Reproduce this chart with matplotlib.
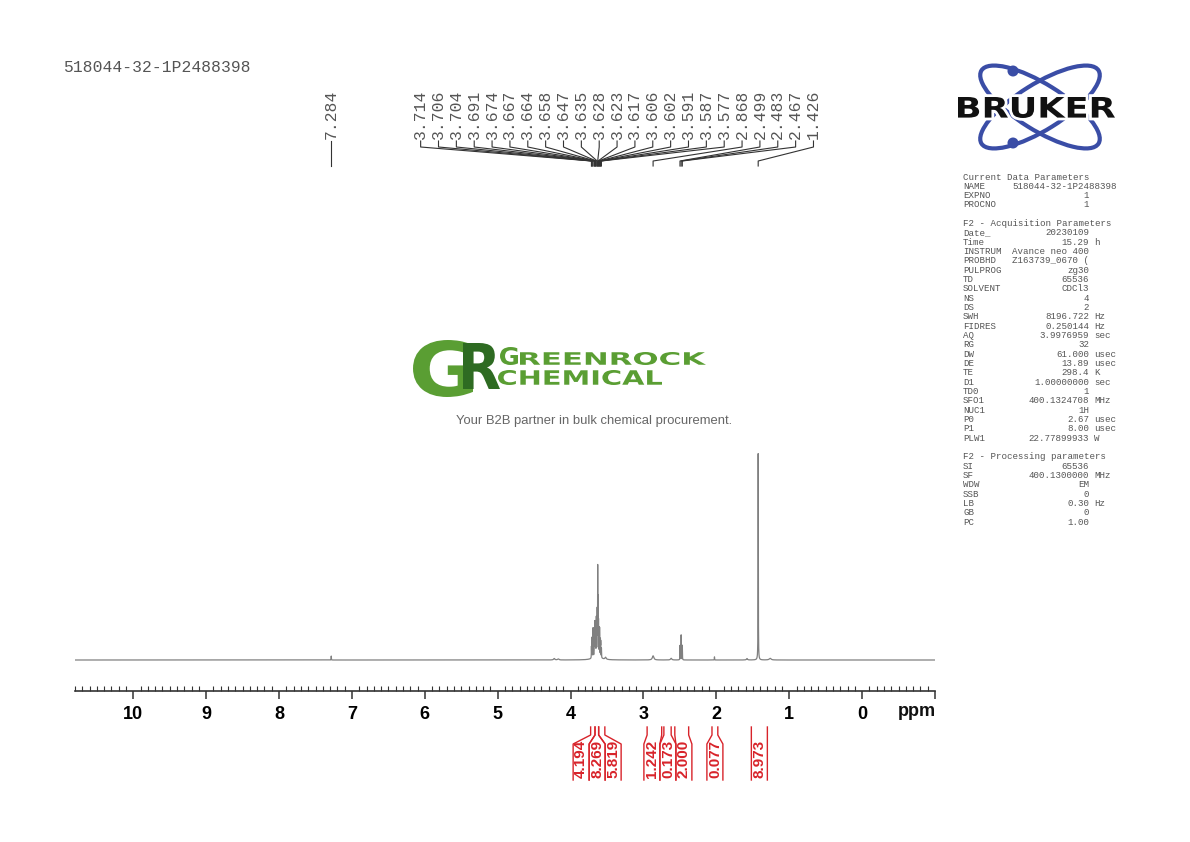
import numpy as np
import matplotlib
matplotlib.use("Agg")
import matplotlib.pyplot as plt
from matplotlib.lines import Line2D
from matplotlib.patches import Ellipse, Circle, PathPatch
from matplotlib.textpath import TextPath
from matplotlib.font_manager import FontProperties
from matplotlib.transforms import Affine2D, blended_transform_factory
from matplotlib.ticker import MultipleLocator

# ---- data ----
sample_name = "518044-32-1P2488398"

# picked peaks (labels at the top)
label_ppm = [7.284, 3.714, 3.706, 3.704, 3.691, 3.674, 3.667, 3.664, 3.658, 3.647,
             3.635, 3.628, 3.623, 3.617, 3.606, 3.602, 3.591, 3.587, 3.577,
             2.868, 2.499, 2.483, 2.467, 1.426]

# lines that build the trace (ppm, relative height, half width in ppm)
line_ppm = [7.284, 4.225, 4.170, 3.714, 3.706, 3.704, 3.691, 3.674, 3.667, 3.664,
            3.658, 3.647, 3.635, 3.628, 3.623, 3.617, 3.606, 3.602, 3.591, 3.587,
            3.577, 3.640, 3.520, 2.868, 2.620, 2.499, 2.483, 2.467, 2.026, 1.580,
            1.426, 1.262]
line_height = [1.9, 0.7, 0.5, 5.5, 7.0, 7.0, 14.0, 10.0, 13.0, 13.0,
               12.0, 17.0, 20.0, 40.0, 24.0, 15.0, 12.0, 12.0, 8.0, 7.0,
               4.5, 3.0, 1.0, 2.0, 0.8, 7.0, 12.0, 7.0, 1.5, 0.7,
               100.0, 0.8]
line_hwhm = [0.0015, 0.010, 0.010, 0.0015, 0.0015, 0.0015, 0.0015, 0.0015, 0.0015, 0.0015,
             0.0015, 0.0015, 0.0015, 0.0015, 0.0015, 0.0015, 0.0015, 0.0015, 0.0015, 0.0015,
             0.0015, 0.040, 0.010, 0.012, 0.010, 0.0015, 0.0015, 0.0015, 0.0015, 0.008,
             0.0018, 0.015]

# integrals
integral_values = ["4.194", "8.269", "5.819", "1.242", "0.173", "2.000", "0.077", "8.973"]
integral_start = [3.725, 3.665, 3.615, 2.950, 2.720, 2.570, 2.060, 1.520]
integral_end = [3.665, 3.615, 3.530, 2.750, 2.620, 2.380, 1.980, 1.300]

tick_values = list(range(-1, 11))
tick_labels = ["" if t < 0 else str(t) for t in tick_values]

# acquisition / processing parameters (key, value, unit); None = blank line
params = [
    ("Current Data Parameters", "", ""),
    ("NAME", sample_name, ""),
    ("EXPNO", "1", ""),
    ("PROCNO", "1", ""),
    None,
    ("F2 - Acquisition Parameters", "", ""),
    ("Date_", "20230109", ""),
    ("Time", "15.29", "h"),
    ("INSTRUM", "Avance neo 400", ""),
    ("PROBHD", "Z163739_0670 (", ""),
    ("PULPROG", "zg30", ""),
    ("TD", "65536", ""),
    ("SOLVENT", "CDCl3", ""),
    ("NS", "4", ""),
    ("DS", "2", ""),
    ("SWH", "8196.722", "Hz"),
    ("FIDRES", "0.250144", "Hz"),
    ("AQ", "3.9976959", "sec"),
    ("RG", "32", ""),
    ("DW", "61.000", "usec"),
    ("DE", "13.89", "usec"),
    ("TE", "298.4", "K"),
    ("D1", "1.00000000", "sec"),
    ("TD0", "1", ""),
    ("SFO1", "400.1324708", "MHz"),
    ("NUC1", "1H", ""),
    ("P0", "2.67", "usec"),
    ("P1", "8.00", "usec"),
    ("PLW1", "22.77899933", "W"),
    None,
    ("F2 - Processing parameters", "", ""),
    ("SI", "65536", ""),
    ("SF", "400.1300000", "MHz"),
    ("WDW", "EM", ""),
    ("SSB", "0", ""),
    ("LB", "0.30", "Hz"),
    ("GB", "0", ""),
    ("PC", "1.00", ""),
]


def spread(centers, gap):
    """Push label positions apart (centers sorted high -> low ppm)."""
    groups = [[i] for i in range(len(centers))]

    def place(g):
        m = np.mean([centers[i] for i in g])
        n = len(g)
        return [m + gap * ((n - 1) / 2 - k) for k in range(n)]

    changed = True
    while changed:
        changed = False
        for j in range(len(groups) - 1):
            a = place(groups[j])
            b = place(groups[j + 1])
            if a[-1] - b[0] < gap - 1e-9:
                groups[j] = groups[j] + groups[j + 1]
                del groups[j + 1]
                changed = True
                break
    out = []
    for g in groups:
        out += place(g)
    return out


def fit_text(ax, s, x0, x1, ytop, ybot, color, weight="bold", family="DejaVu Sans",
             z=3, halo=0):
    tp = TextPath((0, 0), s, size=10, prop=FontProperties(family=family, weight=weight))
    bb = tp.get_extents()
    sx = (x1 - x0) / bb.width
    sy = (ybot - ytop) / bb.height
    tr = Affine2D().translate(-bb.x0, -bb.y0).scale(sx, -sy).translate(x0, ybot)
    path = tr.transform_path(tp)
    if halo:
        ax.add_patch(PathPatch(path, fc="white", ec="white", lw=halo, zorder=z - 0.1))
    ax.add_patch(PathPatch(path, fc=color, ec="none", zorder=z))


W, H = 1190, 842
fig = plt.figure(figsize=(W / 100, H / 100), dpi=100)
fig.patch.set_facecolor("white")

# main spectrum axes: x from px 75..935, bottom spine at px 691
ax = fig.add_axes([75 / W, 1 - 691 / H, 860 / W, (691 - 80) / H])
px_per_unit = 2.08
ax.set_xlim(10.8, -1.0)
ax.set_ylim(-31 / px_per_unit, (611 - 31) / px_per_unit)

x = np.linspace(10.8, -1.0, 30000)
y = np.zeros_like(x)
for p, h, w in zip(line_ppm, line_height, line_hwhm):
    y += h / (1 + ((x - p) / w) ** 2)
ax.plot(x, y, color="#808080", lw=0.9)

for s in ["left", "top", "right"]:
    ax.spines[s].set_visible(False)
ax.spines["bottom"].set_color("#333333")
ax.spines["bottom"].set_linewidth(1.2)
ax.set_yticks([])
ax.set_xticks(tick_values)
ax.set_xticklabels(tick_labels, fontweight="bold", fontsize=13, family="Liberation Sans")
ax.xaxis.set_minor_locator(MultipleLocator(0.1))
ax.tick_params(axis="x", which="major", direction="out", length=6, width=1.1, pad=5, color="#333333")
ax.tick_params(axis="x", which="minor", direction="in", length=3.5, width=0.8, color="#333333")
ax.patch.set_alpha(0)

# overlay in pixel coordinates (y down)
over = fig.add_axes([0, 0, 1, 1])
over.set_xlim(0, W)
over.set_ylim(H, 0)
over.axis("off")
over.set_autoscale_on(False)

trans = blended_transform_factory(ax.transData, over.transData)

# peak labels
label_pos = spread(label_ppm, 0.245)
for lp, pp in zip(label_pos, label_ppm):
    ax.add_line(Line2D([lp, lp, pp, pp], [141, 147, 161, 166], transform=trans,
                       color="#333333", lw=0.8, clip_on=False))
    ax.text(lp, 139, f"{pp:.3f}", transform=trans, rotation=90, ha="center", va="bottom",
            family="Liberation Mono", fontsize=11.8, color="#555555", clip_on=False)

# integrals
int_centers = [(a + b) / 2 for a, b in zip(integral_start, integral_end)]
gap_int = 0.2195
int_pos = spread(int_centers, gap_int)
red = "#d8232a"
for val, s0, s1, pos in zip(integral_values, integral_start, integral_end, int_pos):
    hw = gap_int / 2
    ax.add_line(Line2D([s0, s0, pos + hw, pos + hw], [727, 735, 744, 780], transform=trans,
                       color=red, lw=1.0, clip_on=False))
    ax.add_line(Line2D([s1, s1, pos - hw, pos - hw], [727, 735, 744, 780], transform=trans,
                       color=red, lw=1.0, clip_on=False))
    ax.text(pos, 759, val, transform=trans, rotation=90, ha="center", va="center",
            family="Liberation Sans", fontweight="bold", fontsize=11, color=red, clip_on=False)

over.text(917, 712, "ppm", ha="center", va="center", fontweight="bold", fontsize=13,
          family="Liberation Sans", color="#111111")

# sample name top left
over.text(63, 68, sample_name, va="center", ha="left", family="Liberation Mono",
          fontsize=11.8, color="#555555")

# parameter block
row_y = 177
for row in params:
    if row is not None:
        key, val, unit = row
        over.text(963, row_y, key, va="center", ha="left", family="Liberation Mono",
                  fontsize=6.6, color="#555555")
        if key == "NAME":
            over.text(1117, row_y, val, va="center", ha="right", family="Liberation Mono",
                      fontsize=6.6, color="#555555")
        elif val:
            over.text(1089, row_y, val, va="center", ha="right", family="Liberation Mono",
                      fontsize=6.6, color="#555555")
        if unit:
            over.text(1094, row_y, unit, va="center", ha="left", family="Liberation Mono",
                      fontsize=6.6, color="#555555")
    row_y += 9.33

# Bruker logo
blue = "#3a4da6"
over.add_patch(Ellipse((1040, 107), 138, 46, angle=32, fill=False, ec=blue, lw=3, zorder=2))
over.add_patch(Ellipse((1040, 107), 138, 46, angle=-32, fill=False, ec=blue, lw=3, zorder=2))
over.add_patch(Circle((1013, 71), 5.5, fc=blue, ec="none", zorder=2))
over.add_patch(Circle((1013, 143), 5.5, fc=blue, ec="none", zorder=2))
fit_text(over, "BRUKER", 958, 1115, 97, 118, "#111111", halo=4)

# Greenrock watermark
green = "#5a9e33"
dark = "#2e6b22"
fit_text(over, "G", 413, 473, 340, 397, green)
fit_text(over, "R", 463, 500, 343, 389, dark, z=4)
fit_text(over, "G", 500, 518, 347, 365, green)
fit_text(over, "REENROCK", 520, 706, 352, 365, green)
fit_text(over, "CHEMICAL", 498, 662, 370, 385, green)
over.text(594.5, 421, "Your B2B partner in bulk chemical procurement.", ha="center", va="center",
          fontsize=9.4, color="#666666", family="Liberation Sans")

fig.savefig("out.png", dpi=100, facecolor="white")
